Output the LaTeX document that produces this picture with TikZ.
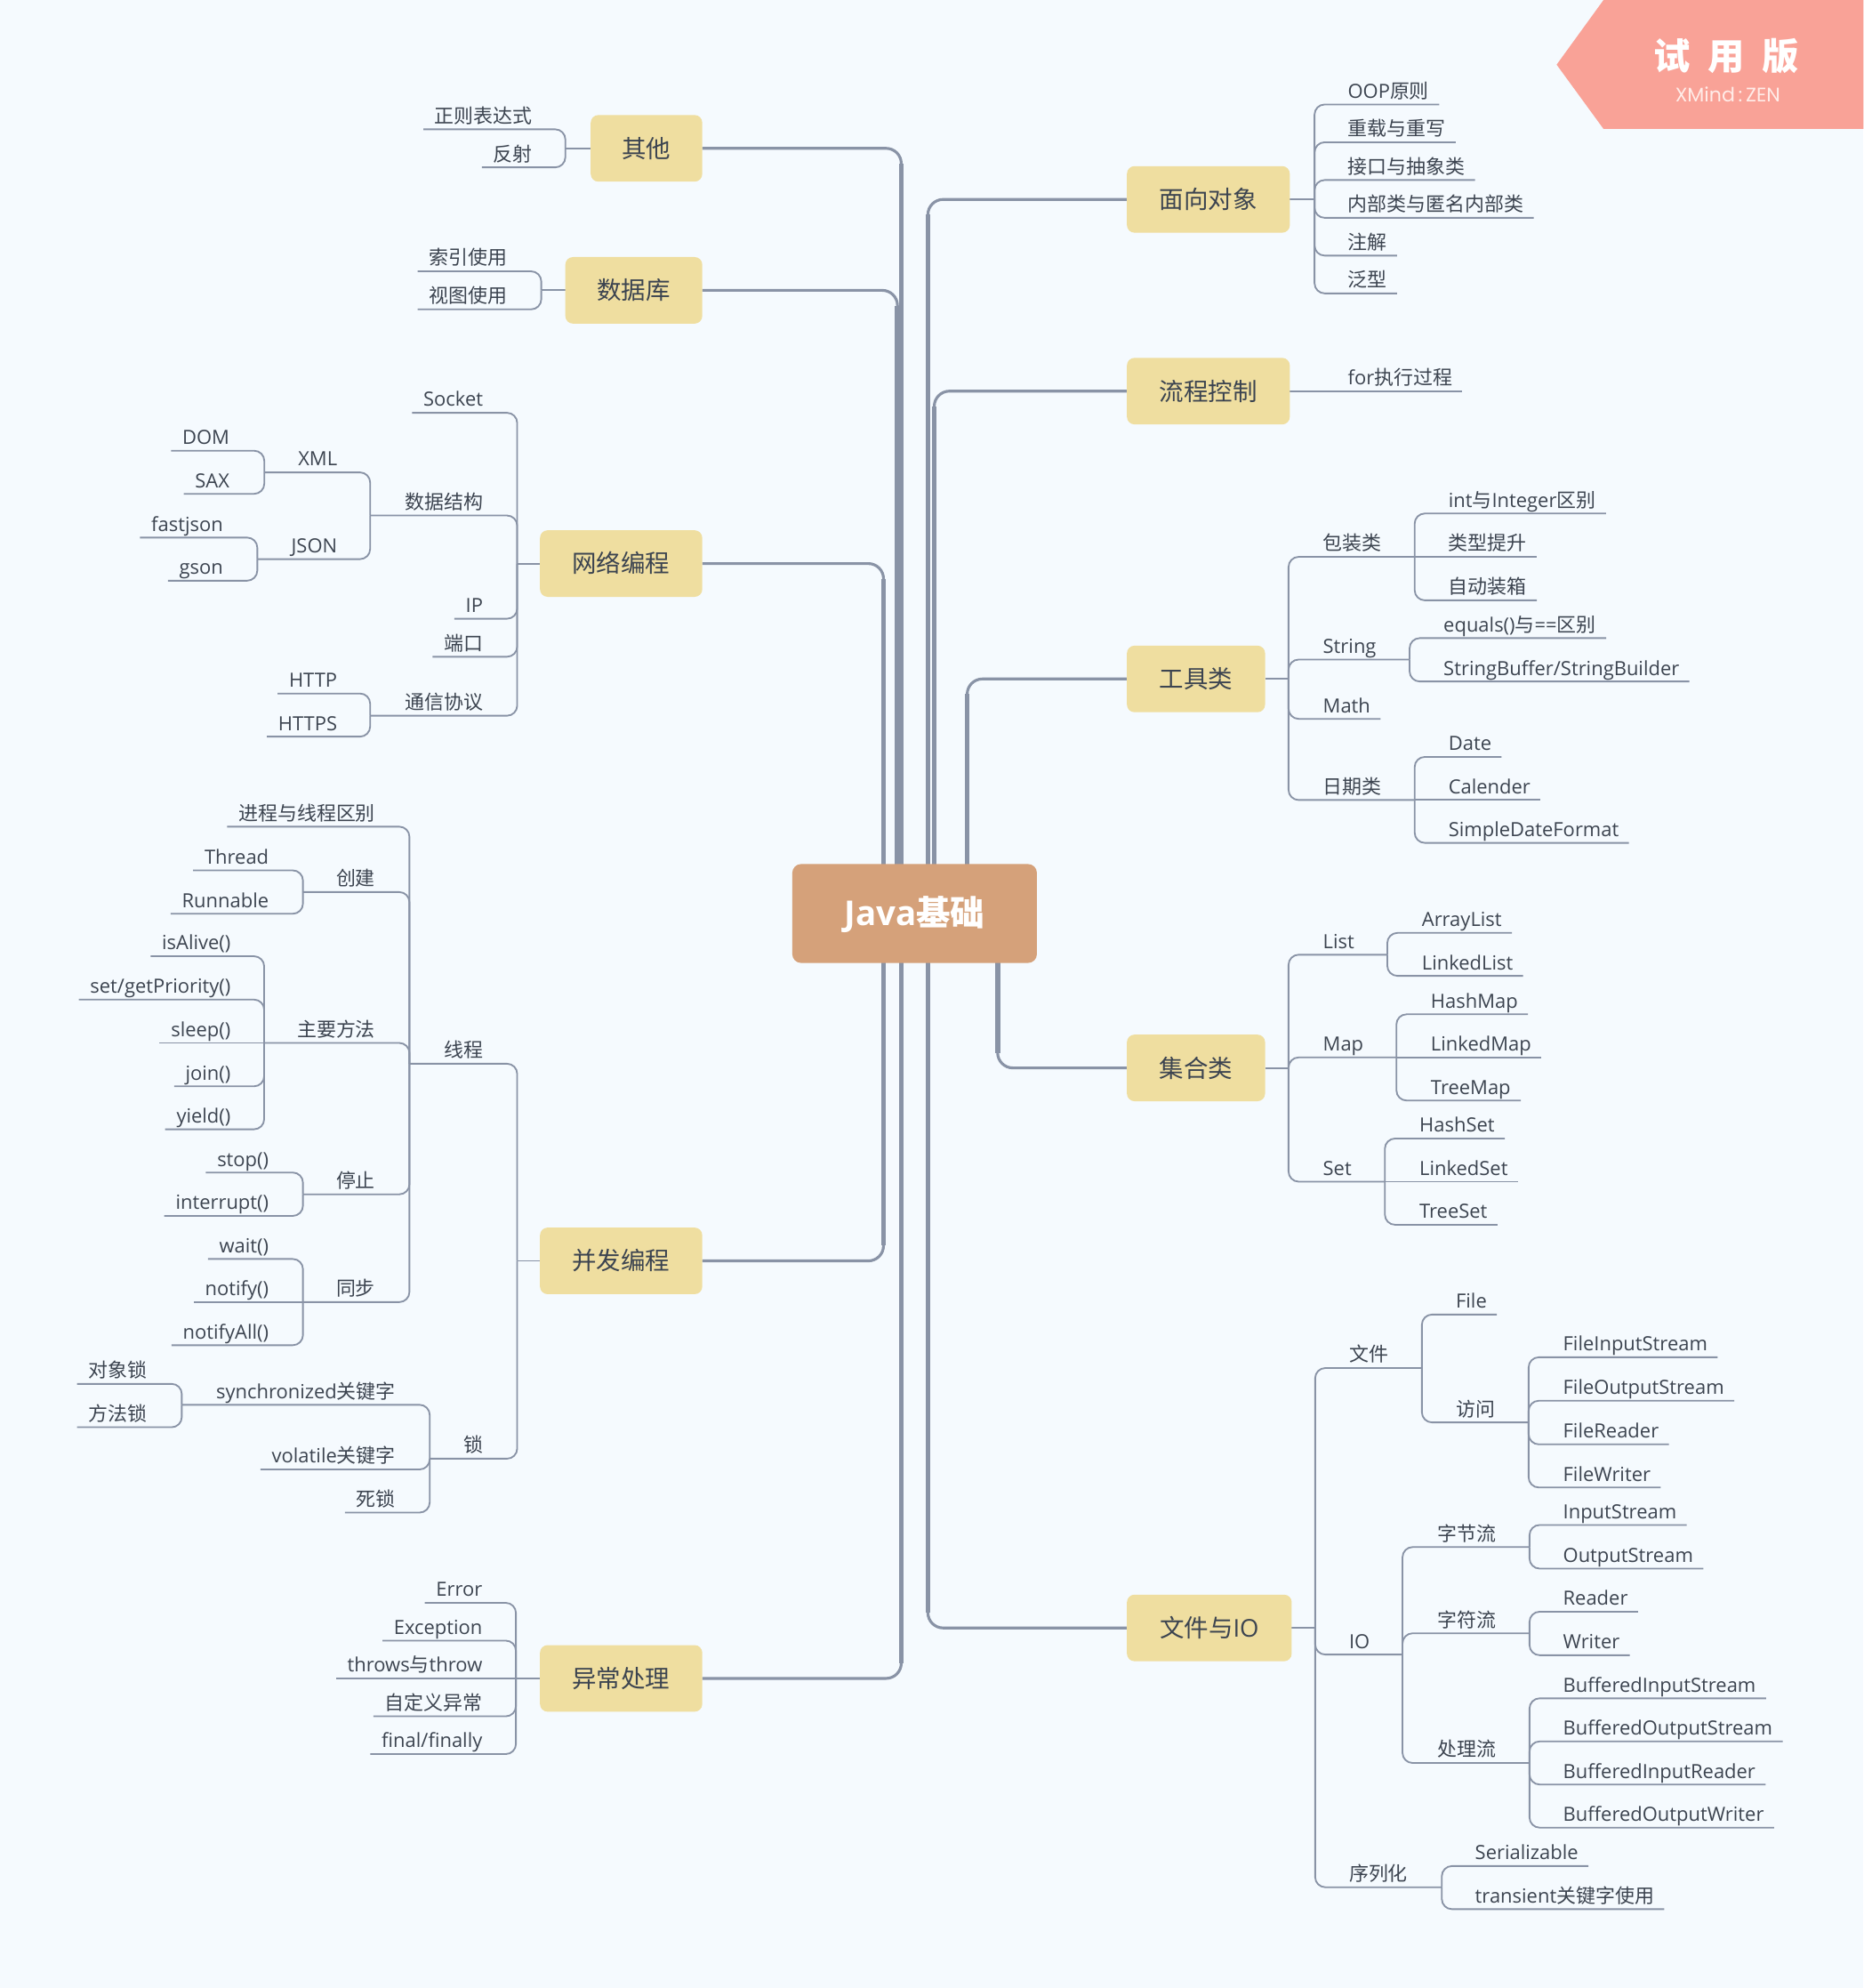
\documentclass[tikz,border=0pt]{standalone}
\usepackage{fontspec}
\setmainfont{Open Sans}
\newfontfamily\cjkfont{Noto Sans CJK SC}
\newfontfamily\wmfont{Poppins}
\XeTeXinterchartokenstate=1
\newXeTeXintercharclass\CJKcls
\newcount\cjkcnt
\cjkcnt="4E00
\loop\ifnum\cjkcnt<"A000 \XeTeXcharclass\cjkcnt=\CJKcls \advance\cjkcnt by 1 \repeat
\XeTeXinterchartoks 0 \CJKcls = {\begingroup\cjkfont}
\XeTeXinterchartoks 4095 \CJKcls = {\begingroup\cjkfont}
\XeTeXinterchartoks \CJKcls 0 = {\endgroup}
\XeTeXinterchartoks \CJKcls 4095 = {\endgroup}
\pgfdeclarelayer{back}
\pgfdeclarelayer{bg}
\pgfsetlayers{back,bg,main}
\definecolor{bgc}{RGB}{245,250,254}
\definecolor{lnc}{RGB}{137,147,166}
\definecolor{txc}{RGB}{60,68,80}
\definecolor{topc}{RGB}{239,222,160}
\definecolor{cenc}{RGB}{213,161,122}
\definecolor{wmc}{RGB}{249,162,151}
\definecolor{wmt}{RGB}{255,236,232}
\tikzset{
  lbl/.style={font=\fontsize{15.4}{18}\selectfont, text=txc, inner xsep=0pt, inner ysep=5pt, text depth=0pt, outer sep=0pt},
  topic/.style={fill=topc, rounded corners=6pt, font=\fontsize{19.3}{22}\selectfont, text=txc, minimum height=52.5pt, inner xsep=2pt, inner ysep=0pt, text height=14.6pt, text depth=0pt, outer sep=0pt},
  central/.style={fill=cenc, rounded corners=7pt, minimum width=193pt, minimum height=78pt, text=white, font=\bfseries\fontsize{27}{30}\selectfont, text height=19.5pt, text depth=0pt, inner sep=0pt, outer sep=0pt},
  sub/.style={draw=lnc, line width=1.3pt, rounded corners=8pt},
  trunk/.style={draw=lnc, line width=2.2pt, rounded corners=12pt},
  trunkv/.style={draw=lnc, line width=3.8pt, shorten >=12pt},
}
\newcommand\LLeaf[4]{\node[lbl,anchor=south east] (#1) at (#2,#3) {#4}; \coordinate (#1-o) at ([xshift=-9pt]#1.south west);}
\newcommand\LMid[5]{\node[lbl,anchor=south east] (#1) at (#2,#3) {#4}; \coordinate (#1-o) at (#5,#3);}
\newcommand\RLeaf[4]{\node[lbl,anchor=south west] (#1) at (#2,#3) {#4}; \coordinate (#1-o) at ([xshift=8pt]#1.south east);}
\newcommand\RMid[5]{\node[lbl,anchor=south west] (#1) at (#2,#3) {#4}; \coordinate (#1-o) at (#5,#3);}
\newcommand\conn[2]{\draw[sub] (#1) |- (#2-o);}
\newcommand\connS[2]{\draw[sub] (#1) -- (#2-o);}
\begin{document}
\begin{tikzpicture}[x=1pt,y=-1pt]
\begin{pgfonlayer}{back}
\fill[bgc] (0,0) rectangle (1470,1568);
\end{pgfonlayer}
\useasboundingbox (0,0) rectangle (1470,1568);

% watermark
\fill[wmc] (1265,0) -- (1470,0) -- (1470,101.7) -- (1265,101.7) -- (1228,51) -- cycle;
\node[text=white, font=\bfseries\fontsize{29}{32}\selectfont, inner sep=0pt] (wmA) at (1362,44) {试\hspace{14pt}用\hspace{14pt}版};
\node[text=wmt, font=\wmfont\fontsize{15.5}{17}\selectfont, inner sep=0pt] (wmB) at (1363,74.5) {XMind\,:\,ZEN};

% central and topics
\node[central] (c) at (721.5,720.5) {Java基础};
\node[topic, anchor=east, minimum width=88pt] (qt) at (554,117) {其他};
\node[topic, anchor=east, minimum width=108pt] (sjk) at (554,229) {数据库};
\node[topic, anchor=east, minimum width=128pt] (wl) at (554,444.5) {网络编程};
\node[topic, anchor=east, minimum width=128pt] (bf) at (554,994.5) {并发编程};
\node[topic, anchor=east, minimum width=128pt] (yc) at (554,1323.8) {异常处理};
\node[topic, anchor=west, minimum width=128.5pt] (mx) at (889,157.3) {面向对象};
\node[topic, anchor=west, minimum width=128.5pt] (lc) at (889,308.5) {流程控制};
\node[topic, anchor=west, minimum width=109pt] (gj) at (889,535.5) {工具类};
\node[topic, anchor=west, minimum width=109pt] (jh) at (889,842.3) {集合类};
\node[topic, anchor=west, minimum width=130pt] (io) at (889,1284) {文件与IO};

\coordinate (qt-j) at ([xshift=-20pt]qt.west);
\coordinate (sjk-j) at ([xshift=-19pt]sjk.west);
\coordinate (wl-j) at ([xshift=-18pt]wl.west);
\coordinate (bf-j) at ([xshift=-18pt]bf.west);
\coordinate (yc-j) at ([xshift=-19pt]yc.west);
\coordinate (mx-j) at ([xshift=19.5pt]mx.east);
\coordinate (lc-j) at ([xshift=19pt]lc.east);
\coordinate (gj-j) at ([xshift=18.5pt]gj.east);
\coordinate (jh-j) at ([xshift=18.5pt]jh.east);
\coordinate (io-j) at ([xshift=18.5pt]io.east);

% left labels
\LLeaf{zz}{420}{102}{正则表达式}
\LLeaf{fs}{420}{132}{反射}
\LLeaf{sy}{400}{214}{索引使用}
\LLeaf{st}{400}{244}{视图使用}
\LLeaf{sock}{381}{325.6}{Socket}
\LMid{sjjg}{381}{406.6}{数据结构}{292}
\LLeaf{ip}{381}{488}{IP}
\LLeaf{dk}{381}{518}{端口}
\LMid{txxy}{381}{564.5}{通信协议}{292}
\LMid{xml}{266}{372.6}{XML}{208.5}
\LMid{json}{266}{441}{JSON}{203}
\LLeaf{dom}{181}{355.5}{DOM}
\LLeaf{sax}{181}{389.5}{SAX}
\LLeaf{fj}{176}{424}{fastjson}
\LLeaf{gs}{176}{458}{gson}
\LLeaf{http}{266}{547}{HTTP}
\LLeaf{https}{266}{581}{HTTPS}

\LMid{xc}{381}{839}{线程}{323}
\LMid{suo}{381}{1150.5}{锁}{339}
\LLeaf{jc}{296}{652}{进程与线程区别}
\LMid{cj}{296}{703.6}{创建}{239}
\LMid{zyff}{296}{822.6}{主要方法}{208.4}
\LMid{tz}{296}{942}{停止}{239}
\LMid{tb}{296}{1027}{同步}{239}
\LLeaf{thr}{212}{686.5}{Thread}
\LLeaf{run}{212}{720.7}{Runnable}
\LLeaf{isa}{182}{754.2}{isAlive()}
\LLeaf{sgp}{182}{788.4}{set/getPriority()}
\LLeaf{slp}{182}{822.6}{sleep()}
\LLeaf{jn}{182}{856.8}{join()}
\LLeaf{yd}{182}{890.7}{yield()}
\LLeaf{stp}{212}{924.8}{stop()}
\LLeaf{intr}{212}{959}{interrupt()}
\LLeaf{wt}{212}{993}{wait()}
\LLeaf{nt}{212}{1027}{notify()}
\LLeaf{nta}{212}{1061}{notifyAll()}
\LMid{syn}{312}{1108}{synchronized关键字}{143.4}
\LLeaf{vol}{312}{1159}{volatile关键字}
\LLeaf{ss}{312}{1193}{死锁}
\LLeaf{dxs}{116}{1091.5}{对象锁}
\LLeaf{ffs}{116}{1125.7}{方法锁}
\LLeaf{err}{380.5}{1264.2}{Error}
\LLeaf{exc}{380.5}{1294}{Exception}
\LLeaf{thw}{380.5}{1323.8}{throws与throw}
\LLeaf{zdy}{380.5}{1353.7}{自定义异常}
\LLeaf{ff}{380.5}{1383.5}{final/finally}

% right labels
\RLeaf{oop}{1063.3}{82.4}{OOP原则}
\RLeaf{cz}{1063.3}{112.2}{重载与重写}
\RLeaf{jk}{1063.3}{142}{接口与抽象类}
\RLeaf{nb}{1063.3}{171.8}{内部类与匿名内部类}
\RLeaf{zj}{1063.3}{201.6}{注解}
\RLeaf{fx}{1063.3}{231.4}{泛型}
\RLeaf{for}{1063.3}{308.5}{for执行过程}

\RMid{bz}{1043.7}{439.2}{包装类}{1116}
\RMid{str}{1043.7}{520.2}{String}{1112}
\RLeaf{math}{1043.7}{567}{Math}
\RMid{rq}{1043.7}{631}{日期类}{1116}
\RLeaf{ii}{1142.7}{405}{int与Integer区别}
\RLeaf{lx}{1142.7}{439.2}{类型提升}
\RLeaf{zd}{1142.7}{473.5}{自动装箱}
\RLeaf{eq}{1138.8}{503.3}{equals()与==区别}
\RLeaf{sb}{1138.8}{537.5}{StringBuffer/StringBuilder}
\RLeaf{date}{1142.7}{597}{Date}
\RLeaf{cal}{1142.7}{631}{Calender}
\RLeaf{sdf}{1142.7}{664.8}{SimpleDateFormat}

\RMid{list}{1043.7}{753}{List}{1094.4}
\RMid{map}{1043.7}{834}{Map}{1101.6}
\RMid{set}{1043.7}{932}{Set}{1092.5}
\RLeaf{al}{1121.7}{735.8}{ArrayList}
\RLeaf{ll}{1121.7}{769.7}{LinkedList}
\RLeaf{hm}{1128.8}{800}{HashMap}
\RLeaf{lm}{1128.8}{834}{LinkedMap}
\RLeaf{tm}{1128.8}{868}{TreeMap}
\RLeaf{hs}{1119.8}{898}{HashSet}
\RLeaf{ls}{1119.8}{932}{LinkedSet}
\RLeaf{ts}{1119.8}{966}{TreeSet}

\RMid{wj}{1064.3}{1079}{文件}{1121.7}
\RMid{IO}{1064.3}{1305}{IO}{1106.4}
\RMid{xlh}{1064.3}{1488.5}{序列化}{1137.4}
\RLeaf{file}{1148.5}{1036.8}{File}
\RMid{fw}{1148.5}{1121.9}{访问}{1205.9}
\RLeaf{fis}{1233.1}{1070.5}{FileInputStream}
\RLeaf{fos}{1233.1}{1104.8}{FileOutputStream}
\RLeaf{fr}{1233.1}{1139.2}{FileReader}
\RLeaf{fwr}{1233.1}{1173.2}{FileWriter}
\RMid{zjl}{1134}{1220.2}{字节流}{1206.6}
\RMid{zfl}{1134}{1288.2}{字符流}{1206.6}
\RMid{cll}{1134}{1390.5}{处理流}{1206.6}
\RLeaf{is}{1233.1}{1202.8}{InputStream}
\RLeaf{os}{1233.1}{1237.2}{OutputStream}
\RLeaf{rd}{1233.1}{1271.2}{Reader}
\RLeaf{wr}{1233.1}{1305.5}{Writer}
\RLeaf{bis}{1233.1}{1339.5}{BufferedInputStream}
\RLeaf{bos}{1233.1}{1373.5}{BufferedOutputStream}
\RLeaf{bir}{1233.1}{1407.5}{BufferedInputReader}
\RLeaf{bow}{1233.1}{1441.5}{BufferedOutputWriter}
\RLeaf{ser}{1163.7}{1471.8}{Serializable}
\RLeaf{tr}{1163.7}{1505.8}{transient关键字使用}

\begin{pgfonlayer}{bg}
% trunk connectors
\coordinate (tA) at ([xshift=-24.5pt]c.center);
\coordinate (tB) at ([xshift=-10.5pt]c.center);
\coordinate (tB2) at ([xshift=-13.5pt]c.center);
\coordinate (tC) at ([xshift=10.5pt]c.center);
\coordinate (tC2) at ([xshift=15.5pt]c.center);
\coordinate (tD) at ([xshift=41.5pt]c.center);
\coordinate (tE) at ([xshift=65.5pt]c.center);
\draw[trunk] (tB) |- (qt.east);   \draw[trunkv] (tB) -- (tB |- qt.east);
\draw[trunk] (tB2) |- (sjk.east); \draw[trunkv] (tB2) -- (tB2 |- sjk.east);
\draw[trunk] (tA) |- (wl.east);   \draw[trunkv] (tA) -- (tA |- wl.east);
\draw[trunk] (tA) |- (bf.east);   \draw[trunkv] (tA) -- (tA |- bf.east);
\draw[trunk] (tB) |- (yc.east);   \draw[trunkv] (tB) -- (tB |- yc.east);
\draw[trunk] (tC) |- (mx.west);   \draw[trunkv] (tC) -- (tC |- mx.west);
\draw[trunk] (tC2) |- (lc.west);  \draw[trunkv] (tC2) -- (tC2 |- lc.west);
\draw[trunk] (tD) |- (gj.west);   \draw[trunkv] (tD) -- (tD |- gj.west);
\draw[trunk] (tE) |- (jh.west);   \draw[trunkv] (tE) -- (tE |- jh.west);
\draw[trunk] (tC) |- (io.west);   \draw[trunkv] (tC) -- (tC |- io.west);

% stubs from topics
\draw[sub] (qt.west) -- (qt-j);
\draw[sub] (sjk.west) -- (sjk-j);
\draw[sub] (wl.west) -- (wl-j);
\draw[sub] (bf.west) -- (bf-j);
\draw[sub] (yc.west) -- (yc-j);
\draw[sub] (mx.east) -- (mx-j);
\draw[sub] (lc.east) -- (lc-j);
\draw[sub] (gj.east) -- (gj-j);
\draw[sub] (jh.east) -- (jh-j);
\draw[sub] (io.east) -- (io-j);

% left branches
\conn{qt-j}{zz} \conn{qt-j}{fs}
\conn{sjk-j}{sy} \conn{sjk-j}{st}
\conn{wl-j}{sock} \conn{wl-j}{sjjg} \conn{wl-j}{ip} \conn{wl-j}{dk} \conn{wl-j}{txxy}
\conn{sjjg-o}{xml} \conn{sjjg-o}{json}
\conn{xml-o}{dom} \conn{xml-o}{sax}
\conn{json-o}{fj} \conn{json-o}{gs}
\conn{txxy-o}{http} \conn{txxy-o}{https}
\conn{bf-j}{xc} \conn{bf-j}{suo}
\conn{xc-o}{jc} \conn{xc-o}{cj} \conn{xc-o}{zyff} \conn{xc-o}{tz} \conn{xc-o}{tb}
\conn{cj-o}{thr} \conn{cj-o}{run}
\conn{zyff-o}{isa} \conn{zyff-o}{sgp} \connS{zyff-o}{slp} \conn{zyff-o}{jn} \conn{zyff-o}{yd}
\conn{tz-o}{stp} \conn{tz-o}{intr}
\conn{tb-o}{wt} \connS{tb-o}{nt} \conn{tb-o}{nta}
\conn{suo-o}{syn} \conn{suo-o}{vol} \conn{suo-o}{ss}
\conn{syn-o}{dxs} \conn{syn-o}{ffs}
\conn{yc-j}{err} \conn{yc-j}{exc} \connS{yc-j}{thw} \conn{yc-j}{zdy} \conn{yc-j}{ff}

% right branches
\conn{mx-j}{oop} \conn{mx-j}{cz} \conn{mx-j}{jk} \conn{mx-j}{nb} \conn{mx-j}{zj} \conn{mx-j}{fx}
\connS{lc-j}{for}
\conn{gj-j}{bz} \conn{gj-j}{str} \conn{gj-j}{math} \conn{gj-j}{rq}
\conn{bz-o}{ii} \connS{bz-o}{lx} \conn{bz-o}{zd}
\conn{str-o}{eq} \conn{str-o}{sb}
\conn{rq-o}{date} \connS{rq-o}{cal} \conn{rq-o}{sdf}
\conn{jh-j}{list} \conn{jh-j}{map} \conn{jh-j}{set}
\conn{list-o}{al} \conn{list-o}{ll}
\conn{map-o}{hm} \connS{map-o}{lm} \conn{map-o}{tm}
\conn{set-o}{hs} \connS{set-o}{ls} \conn{set-o}{ts}
\conn{io-j}{wj} \conn{io-j}{IO} \conn{io-j}{xlh}
\conn{wj-o}{file} \conn{wj-o}{fw}
\conn{fw-o}{fis} \conn{fw-o}{fos} \conn{fw-o}{fr} \conn{fw-o}{fwr}
\conn{IO-o}{zjl} \conn{IO-o}{zfl} \conn{IO-o}{cll}
\conn{zjl-o}{is} \conn{zjl-o}{os}
\conn{zfl-o}{rd} \conn{zfl-o}{wr}
\conn{cll-o}{bis} \conn{cll-o}{bos} \conn{cll-o}{bir} \conn{cll-o}{bow}
\conn{xlh-o}{ser} \conn{xlh-o}{tr}
\end{pgfonlayer}
\end{tikzpicture}
\end{document}
